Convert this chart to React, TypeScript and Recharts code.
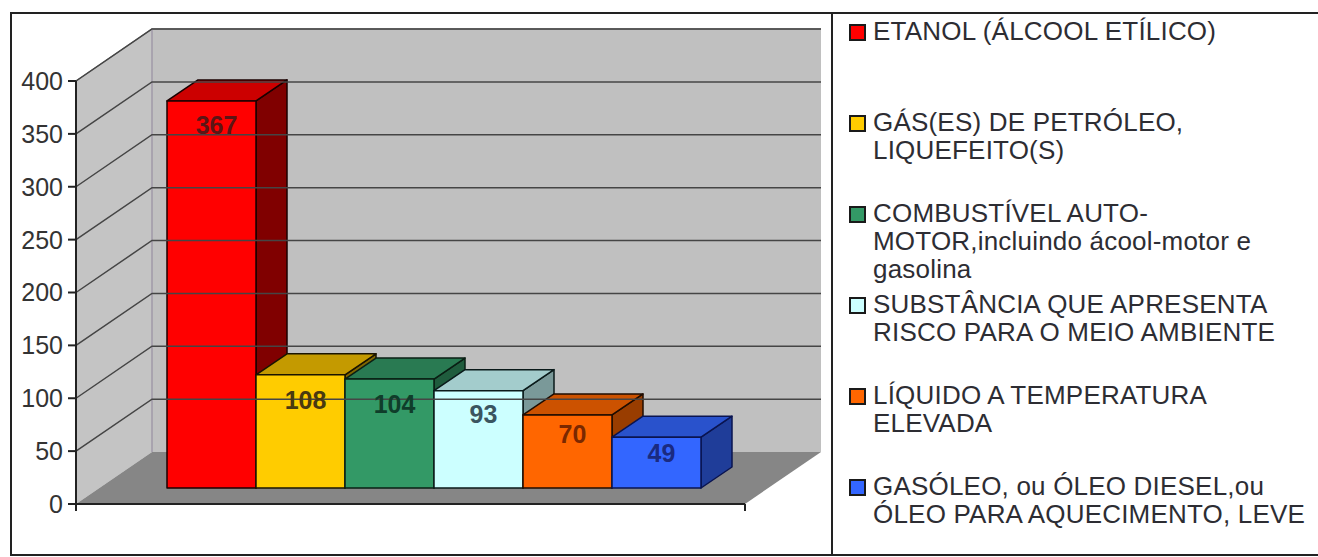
import { BarChart, Bar, XAxis, YAxis, Legend, LabelList, ReferenceArea, ReferenceLine } from "recharts"

const fuelNames = [
  "ETANOL (ÁLCOOL ETÍLICO)",
  "GÁS(ES) DE PETRÓLEO,\nLIQUEFEITO(S)",
  "COMBUSTÍVEL AUTO-\nMOTOR,incluindo ácool-motor e\ngasolina",
  "SUBSTÂNCIA QUE APRESENTA\nRISCO PARA O MEIO AMBIENTE",
  "LÍQUIDO A TEMPERATURA\nELEVADA",
  "GASÓLEO, ou ÓLEO DIESEL,ou\nÓLEO PARA AQUECIMENTO, LEVE",
]
const fuelValues = [367, 108, 104, 93, 70, 49]
const yTicks = [0, 50, 100, 150, 200, 250, 300, 350, 400]

// front / top / side of each 3D bar
const frontColors = ["#ff0000", "#ffcc00", "#339966", "#ccffff", "#ff6600", "#3366ff"]
const topColors = ["#cc0000", "#c49a00", "#297a52", "#a3cccc", "#cc5200", "#2952cc"]
const sideColors = ["#800000", "#806600", "#1f5c3d", "#7a9999", "#993d00", "#1f3d99"]
const edgeColors = ["#1a0000", "#1a1400", "#0a1f14", "#0a1a1a", "#1f0c00", "#0a1450"]
const labelColors = ["#5c1515", "#4a3a10", "#0f3d2a", "#3a5560", "#7a2800", "#1a2a80"]
const labelDrops = [24, 25, 25, 23, 19, 16]

const chartRow: Record<string, string | number> = { category: "1" }
fuelValues.forEach((v, i) => {
  chartRow["s" + i] = v
})
const chartData = [chartRow]

const PAD_LEFT = 91
const PAD_RIGHT = 44
const WALL_DX = 76
const WALL_DY = 52
const BAR_SHIFT = 15
const BAR_DX = 31
const BAR_DY = 21
const FONT = "'Liberation Sans', Arial, sans-serif"

function Walls({ x: bandX, y, width: bandWidth, height }: any) {
  // the area comes in with the axis padding taken off, the walls span the whole axis
  const x = bandX - PAD_LEFT
  const width = bandWidth + PAD_LEFT + PAD_RIGHT
  const bottom = y + height
  const right = x + width
  return (
    <g>
      <polygon points={`${x},${y} ${x + WALL_DX},${y - WALL_DY} ${x + WALL_DX},${bottom - WALL_DY} ${x},${bottom}`} fill="#c4c4c4" />
      <rect x={x + WALL_DX} y={y - WALL_DY} width={width} height={height} fill="#c0c0c0" />
      <polygon
        points={`${x},${bottom} ${x + WALL_DX},${bottom - WALL_DY} ${right + WALL_DX},${bottom - WALL_DY} ${right},${bottom}`}
        fill="#868686"
      />
      <polyline
        points={`${x},${y} ${x + WALL_DX},${y - WALL_DY} ${right + WALL_DX},${y - WALL_DY}`}
        fill="none"
        stroke="#808080"
        strokeWidth={1.5}
      />
      <line x1={x + WALL_DX} y1={y - WALL_DY} x2={x + WALL_DX} y2={bottom - WALL_DY} stroke="#a09aa8" strokeWidth={1.5} />
      <line x1={x} y1={bottom} x2={x} y2={bottom + 7} stroke="#222" strokeWidth={2} />
      <line x1={right} y1={bottom} x2={right} y2={bottom + 7} stroke="#222" strokeWidth={2} />
    </g>
  )
}

function WallLine({ x1, y1, x2, y2 }: any) {
  return (
    <polyline
      points={`${x1},${y1} ${x1 + WALL_DX},${y1 - WALL_DY} ${x2 + WALL_DX},${y2 - WALL_DY}`}
      fill="none"
      stroke="#454545"
      strokeWidth={1.5}
    />
  )
}

function Box3D({ x, y, width, height, index }: any) {
  const i = index as number
  const top = y - BAR_SHIFT
  const bot = top + height - 1
  const right = x + width
  return (
    <g stroke={edgeColors[i]} strokeWidth={1.5} strokeLinejoin="round">
      <polygon
        points={`${right},${top} ${right + BAR_DX},${top - BAR_DY} ${right + BAR_DX},${bot - BAR_DY} ${right},${bot}`}
        fill={sideColors[i]}
      />
      <polygon
        points={`${x},${top} ${x + BAR_DX},${top - BAR_DY} ${right + BAR_DX},${top - BAR_DY} ${right},${top}`}
        fill={topColors[i]}
      />
      <rect x={x} y={top} width={width} height={height - 1} fill={frontColors[i]} />
    </g>
  )
}

function LegendList({ payload }: any) {
  return (
    <div style={{ position: "absolute", left: 849, top: 0, width: 460, fontFamily: FONT }}>
      {(payload || []).map((item: any, i: number) => (
        <div key={item.value} style={{ position: "absolute", left: 0, top: 18 + i * 91 }}>
          <div
            style={{
              position: "absolute",
              left: 0,
              top: 6,
              width: 13,
              height: 13,
              background: item.color,
              border: "2px solid #1a1a1a",
            }}
          />
          <div
            style={{
              position: "absolute",
              left: 24,
              top: -1,
              width: 470,
              whiteSpace: "pre-line",
              fontSize: 26,
              lineHeight: "28px",
              letterSpacing: 0.2,
              color: "#2d2d33",
            }}
          >
            {item.value}
          </div>
        </div>
      ))}
    </div>
  )
}

export default function App() {
  return (
    <div style={{ position: "absolute", left: 0, top: 0, width: 1318, height: 557, background: "#fff", overflow: "hidden" }}>
      <BarChart
        width={1318}
        height={557}
        data={chartData}
        barCategoryGap={0}
        barGap={0}
        margin={{ top: 81, right: 573, bottom: 43, left: 16 }}
      >
        <XAxis
          dataKey="category"
          tick={false}
          tickLine={false}
          height={10}
          padding={{ left: PAD_LEFT, right: PAD_RIGHT }}
          axisLine={{ stroke: "#222", strokeWidth: 2 }}
        />
        <YAxis
          width={60}
          domain={[0, 400]}
          ticks={yTicks}
          interval={0}
          tickSize={8}
          tickMargin={5}
          axisLine={{ stroke: "#222", strokeWidth: 2 }}
          tickLine={{ stroke: "#222", strokeWidth: 2 }}
          tick={{ fontFamily: FONT, fontSize: 25, fill: "#333" }}
        />
        <ReferenceArea y1={0} y2={400} ifOverflow="visible" shape={Walls} />
        {yTicks.slice(1).map((t) => (
          <ReferenceLine key={t} y={t} ifOverflow="visible" shape={WallLine} />
        ))}
        {fuelValues.map((_, i) => (
          <Bar
            key={i}
            dataKey={"s" + i}
            name={fuelNames[i]}
            fill={frontColors[i]}
            isAnimationActive={false}
            shape={(p: any) => <Box3D {...p} index={i} />}
          >
            <LabelList
              dataKey={"s" + i}
              content={(p: any) => (
                <text
                  x={p.x + p.width / 2 + 5}
                  y={p.y - BAR_SHIFT + labelDrops[i]}
                  textAnchor="middle"
                  dominantBaseline="central"
                  fontFamily={FONT}
                  fontSize={25}
                  fontWeight="bold"
                  fill={labelColors[i]}
                >
                  {p.value}
                </text>
              )}
            />
          </Bar>
        ))}
        <Legend
          content={LegendList}
          itemSorter={null}
          wrapperStyle={{ position: "absolute", left: 0, top: 0, width: 0, height: 0 }}
        />
      </BarChart>
      {/* moldura */}
      <div style={{ position: "absolute", left: 11, top: 12, width: 1307, height: 2, background: "#222" }} />
      <div style={{ position: "absolute", left: 11, top: 554, width: 1307, height: 2, background: "#222" }} />
      <div style={{ position: "absolute", left: 10, top: 12, width: 2, height: 544, background: "#222" }} />
      <div style={{ position: "absolute", left: 831, top: 12, width: 2, height: 544, background: "#222" }} />
    </div>
  )
}
